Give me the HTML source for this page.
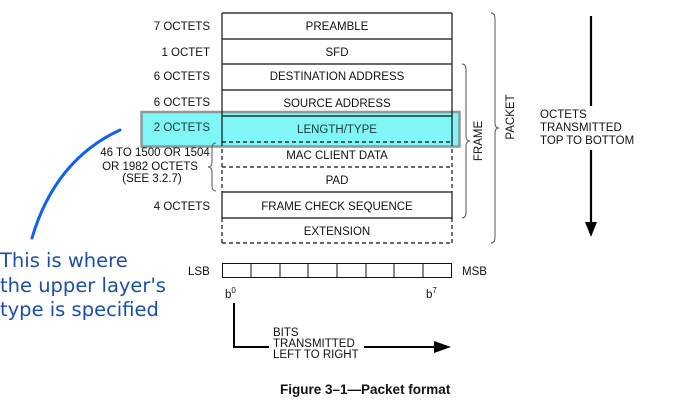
<!DOCTYPE html>
<html><head><meta charset="utf-8"><style>
html,body{margin:0;padding:0;background:#fff;}
svg{display:block;}
text{font-family:"Liberation Sans",Arial,sans-serif;font-size:11.5px;fill:#111;}
.bl{font-family:"DejaVu Sans",Verdana,sans-serif;font-size:19.5px;fill:#1a4fa8;}
</style></head><body>
<svg width="687" height="406" viewBox="0 0 687 406" xmlns="http://www.w3.org/2000/svg">
<rect x="141.5" y="112" width="318" height="34.5" fill="#80f5f5" stroke="#8c9a9a" stroke-width="2.5"/>
<g stroke="#111" stroke-width="1.2" fill="none">
<line x1="222" y1="13" x2="222" y2="142"/>
<line x1="452" y1="13" x2="452" y2="142"/>
<line x1="222" y1="13" x2="452" y2="13"/>
<line x1="222" y1="39" x2="452" y2="39"/>
<line x1="222" y1="64" x2="452" y2="64"/>
<line x1="222" y1="90" x2="452" y2="90"/>
<line x1="222" y1="116" x2="452" y2="116"/>
<line x1="222" y1="192" x2="452" y2="192"/>
<line x1="222" y1="218" x2="452" y2="218"/>
<line x1="222" y1="192" x2="222" y2="218"/>
<line x1="452" y1="192" x2="452" y2="218"/>
</g>
<g stroke="#111" stroke-width="1.2" fill="none" stroke-dasharray="4,3">
<line x1="222" y1="142" x2="452" y2="142"/>
<line x1="222" y1="167" x2="452" y2="167"/>
<line x1="222" y1="142" x2="222" y2="192"/>
<line x1="452" y1="142" x2="452" y2="192"/>
<line x1="222" y1="218" x2="222" y2="243"/>
<line x1="452" y1="218" x2="452" y2="243"/>
<line x1="222" y1="243" x2="452" y2="243"/>
</g>
<g text-anchor="middle">
<text x="337" y="30">PREAMBLE</text>
<text x="337" y="56">SFD</text>
<text x="337" y="80">DESTINATION ADDRESS</text>
<text x="337" y="107">SOURCE ADDRESS</text>
<text x="337" y="133" style="fill:#1a3a3a">LENGTH/TYPE</text>
<text x="337" y="159">MAC CLIENT DATA</text>
<text x="337" y="184">PAD</text>
<text x="337" y="210">FRAME CHECK SEQUENCE</text>
<text x="337" y="235">EXTENSION</text>
</g>
<g text-anchor="end">
<text x="210" y="30">7 OCTETS</text>
<text x="210" y="56">1 OCTET</text>
<text x="210" y="80">6 OCTETS</text>
<text x="210" y="106">6 OCTETS</text>
<text x="210" y="131" style="fill:#1a3a3a">2 OCTETS</text>
<text x="210" y="210">4 OCTETS</text>
</g>
<g text-anchor="middle">
<text x="155" y="156">46 TO 1500 OR 1504</text>
<text x="150" y="170">OR 1982 OCTETS</text>
<text x="152" y="182">(SEE 3.2.7)</text>
</g>
<path d="M216,143 Q212,143 212,148 L212,162 Q212,167 208,167 Q212,167 212,172 L212,186 Q212,191 216,191" stroke="#555" stroke-width="1" fill="none"/>
<path d="M462,64 Q466,64 466,70 L466,136 Q466,141 470,141 Q466,141 466,146 L466,212 Q466,218 462,218" stroke="#555" stroke-width="1" fill="none"/>
<text transform="translate(482,141) rotate(-90)" text-anchor="middle">FRAME</text>
<path d="M491,13 Q495,13 495,19 L495,123 Q495,128 499,128 Q495,128 495,133 L495,237 Q495,243 491,243" stroke="#555" stroke-width="1" fill="none"/>
<text transform="translate(514,117) rotate(-90)" text-anchor="middle">PACKET</text>
<line x1="591" y1="16" x2="591" y2="106" stroke="#000" stroke-width="2.2"/>
<line x1="591" y1="150" x2="591" y2="224" stroke="#000" stroke-width="2.2"/>
<polygon points="585,222 597,222 591,237" fill="#000"/>
<text x="540" y="118">OCTETS</text>
<text x="540" y="131">TRANSMITTED</text>
<text x="540" y="144">TOP TO BOTTOM</text>
<rect x="222.5" y="263.5" width="229" height="14" fill="none" stroke="#111" stroke-width="1"/>
<g stroke="#111" stroke-width="1">
<line x1="251" y1="263" x2="251" y2="278"/>
<line x1="280" y1="263" x2="280" y2="278"/>
<line x1="308" y1="263" x2="308" y2="278"/>
<line x1="337" y1="263" x2="337" y2="278"/>
<line x1="366" y1="263" x2="366" y2="278"/>
<line x1="394" y1="263" x2="394" y2="278"/>
<line x1="423" y1="263" x2="423" y2="278"/>
</g>
<text x="188" y="275">LSB</text>
<text x="462" y="275">MSB</text>
<text x="225" y="298">b<tspan font-size="8" dy="-5">0</tspan></text>
<text x="426" y="298">b<tspan font-size="8" dy="-5">7</tspan></text>
<path d="M234,303 L234,347 L269,347" stroke="#000" stroke-width="2" fill="none"/>
<line x1="364" y1="347" x2="436" y2="347" stroke="#000" stroke-width="2"/>
<polygon points="434,341 451,347 434,353" fill="#000"/>
<text x="273" y="336">BITS</text>
<text x="273" y="347">TRANSMITTED</text>
<text x="273" y="358">LEFT TO RIGHT</text>
<text x="280" y="394" style="font-weight:bold;font-size:13.5px;">Figure 3–1—Packet format</text>
<path d="M120,130 Q55,160 32,238" stroke="#1060f0" stroke-width="3" fill="none" stroke-linecap="round"/>
<text class="bl" x="0" y="267">This is where</text>
<text class="bl" x="0" y="292">the upper layer's</text>
<text class="bl" x="0" y="316">type is specified</text>
</svg>
</body></html>
